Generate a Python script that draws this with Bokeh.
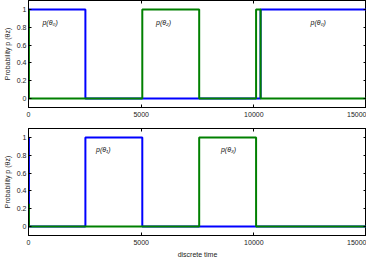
from bokeh.plotting import figure
from bokeh.layouts import column
from bokeh.models import LinearAxis, Range1d, FixedTicker, Label
from bokeh.embed import file_html
from bokeh.resources import INLINE

# change points (discrete time) and probabilities held after each point
times = [0, 20, 2525, 5050, 7575, 10100, 10300, 15000]
p_theta0 = [1, 1, 0, 0, 0, 0, 1, 1]
p_theta1 = [1, 0, 1, 0, 0, 0, 0, 0]
p_theta2 = [1, 0, 0, 1, 0, 1, 0, 0]
p_theta3 = [0.25, 0, 0, 0, 1, 0, 0, 0]

x_ticks = [0, 5000, 10000, 15000]
y_ticks = [0, 0.2, 0.4, 0.6, 0.8, 1]

labels_top = [("p(θ₀)", 620, 0.85), ("p(θ₂)", 5660, 0.85), ("p(θ₀)", 12520, 0.85)]
labels_bottom = [("p(θ₁)", 3000, 0.86), ("p(θ₃)", 8540, 0.86)]

FONT = "Liberation Sans"
BLUE = "#0000ff"
GREEN = "#008000"


def style_axis(ax, labels=True):
    ax.major_tick_in = 3
    ax.major_tick_out = 0
    ax.minor_tick_in = 0
    ax.minor_tick_out = 0
    ax.axis_line_color = "black"
    ax.major_tick_line_color = "black"
    ax.major_label_text_font = FONT
    ax.major_label_text_font_size = "7px"
    ax.major_label_text_color = "#222222"
    ax.major_label_standoff = 2
    ax.axis_label_text_font = FONT
    ax.axis_label_text_font_size = "7px"
    ax.axis_label_text_font_style = "normal"
    ax.axis_label_text_color = "#222222"
    ax.axis_label_standoff = 3
    if not labels:
        ax.major_label_text_font_size = "0px"
        ax.major_label_text_alpha = 0
        ax.major_label_standoff = 0


def make_fig(frame_h, xlabel, series, labels):
    p = figure(frame_width=338, frame_height=frame_h, output_backend="svg", toolbar_location=None,
               x_range=Range1d(0, 15000), y_range=Range1d(-0.1, 1.1),
               min_border_left=0, min_border_right=0,
               min_border_top=0, min_border_bottom=0)
    p.grid.visible = False
    p.outline_line_color = "black"
    p.outline_line_width = 1
    p.xaxis.ticker = FixedTicker(ticks=x_ticks)
    p.yaxis.ticker = FixedTicker(ticks=y_ticks)
    p.yaxis.major_label_overrides = {0: "0", 1: "1"}
    p.yaxis.axis_label = "Probability p (θz)"
    if xlabel:
        p.xaxis.axis_label = xlabel
    style_axis(p.xaxis[0])
    style_axis(p.yaxis[0])
    p.xaxis.major_label_standoff = 4
    ra = LinearAxis(ticker=FixedTicker(ticks=y_ticks))
    style_axis(ra, labels=False)
    p.add_layout(ra, "right")
    ta = LinearAxis(ticker=FixedTicker(ticks=x_ticks))
    style_axis(ta, labels=False)
    p.add_layout(ta, "above")
    for ys, col in series:
        p.step(times, ys, mode="after", line_color=col, line_width=2)
    for txt, x, y in labels:
        p.add_layout(Label(x=x, y=y, text=txt, text_font=FONT, text_font_size="7px",
                           text_font_style="italic", text_color="#111111",
                           text_baseline="middle"))
    return p


p1 = make_fig(107, None, [(p_theta0, BLUE), (p_theta2, GREEN)], labels_top)
p2 = make_fig(107, "discrete time", [(p_theta1, BLUE), (p_theta3, GREEN)], labels_bottom)

layout = column(p1, p2, spacing=9)
open("out.html", "w").write(file_html(layout, INLINE))
